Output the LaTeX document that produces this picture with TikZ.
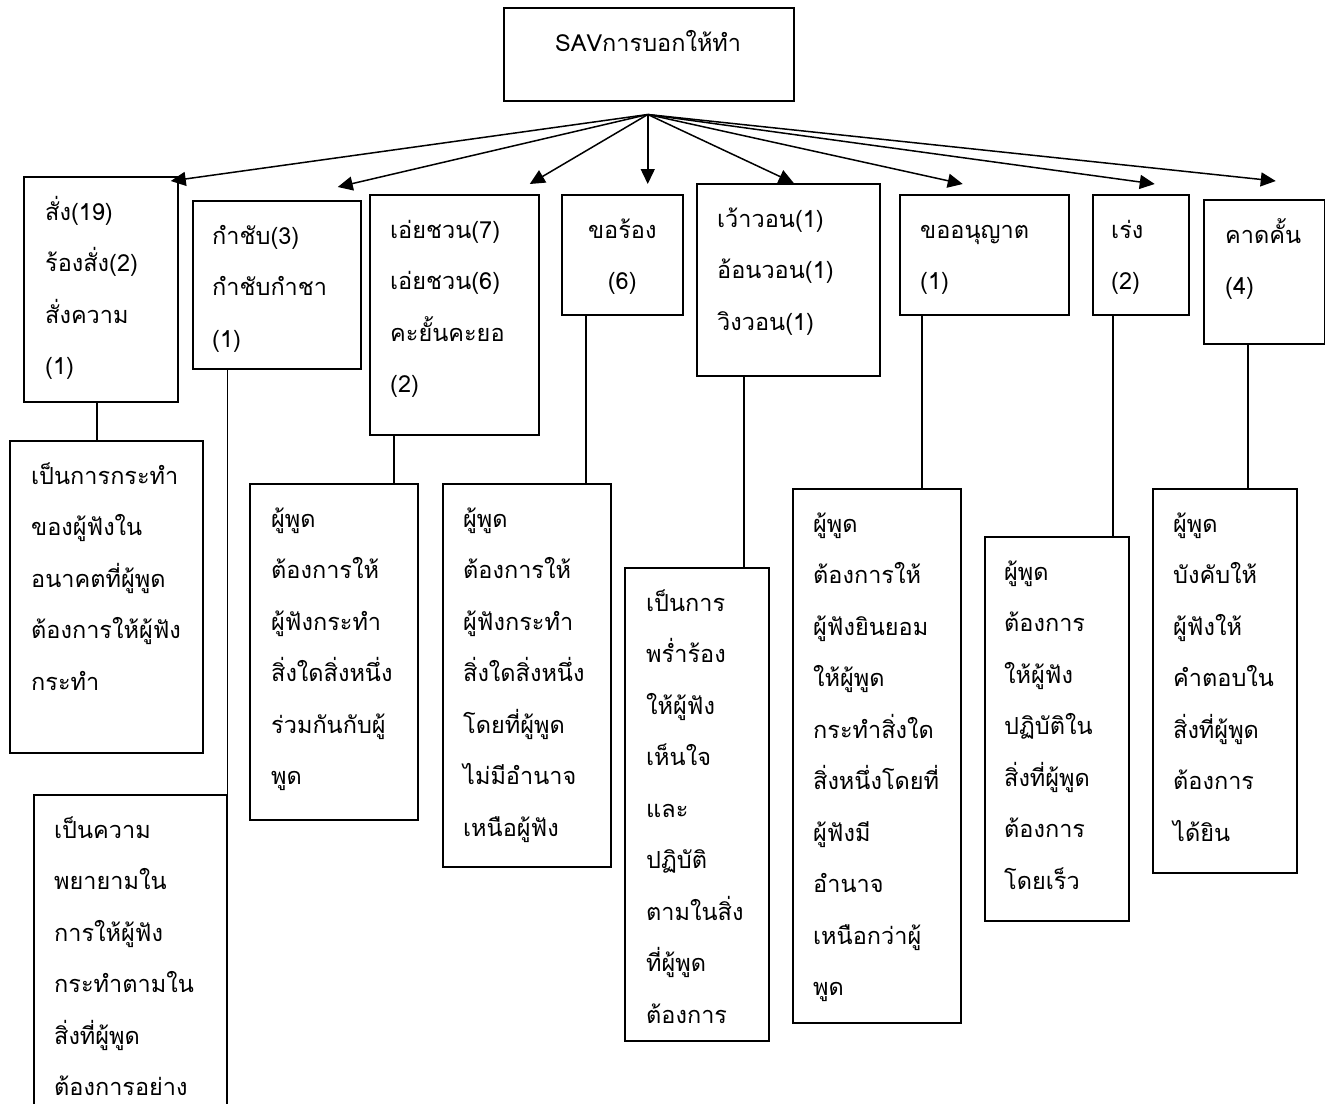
\documentclass[tikz,border=0pt]{standalone}
\usepackage{fontspec}
\newfontfamily\thaifont[Script=Thai]{Loma}
\usetikzlibrary{arrows.meta,positioning}
\newcommand{\kopf}{\rule{0pt}{36.3pt}}

\begin{document}
\begin{tikzpicture}[x=1pt,y=-1pt,
		box/.style={draw,line width=1.5pt,inner sep=0pt,anchor=north west},
		txt/.style={anchor=north west,inner sep=0pt,align=left,
			font=\thaifont\fontsize{23.5}{51.5}\selectfont},
		pil/.style={line width=1.5pt,-{Triangle[length=15pt,width=14pt]}},
		lin/.style={line width=1.5pt}]
		\useasboundingbox (0,0) rectangle (1325,1103);
		% top box
		\node[box,minimum width=290pt,minimum height=93pt] (sav) at (503,7) {};
		\node[txt] (tsav) at ([xshift=52pt,yshift=-7.7pt]sav.north west) {\kopf SAVการบอกให้ทำ};
		\coordinate (hub) at ([xshift=-1pt,yshift=-13pt]sav.south);
		% first row
		\node[box,minimum width=154pt,minimum height=225pt] (k1) at (23,176) {};
		\node[txt] (t1) at ([xshift=22pt,yshift=-7.7pt]k1.north west) {\kopf สั่ง(19)\\ร้องสั่ง(2)\\สั่งความ\\(1)};
		\node[box,minimum width=168pt,minimum height=168pt] (k2) at (192,200) {};
		\node[txt] (t2) at ([xshift=20pt,yshift=-7.7pt]k2.north west) {\kopf กำชับ(3)\\กำชับกำชา\\(1)};
		\node[box,minimum width=169pt,minimum height=240pt] (k3) at (369,194) {};
		\node[txt] (t3) at ([xshift=21pt,yshift=-7.7pt]k3.north west) {\kopf เอ่ยชวน(7)\\เอ่ยชวน(6)\\คะยั้นคะยอ\\(2)};
		\node[box,minimum width=121pt,minimum height=120pt] (k4) at (561,194) {};
		\node[txt,anchor=north,align=center] (t4) at ([yshift=-7.7pt]k4.north) {\kopf ขอร้อง\\(6)};
		\node[box,minimum width=183pt,minimum height=192pt] (k5) at (696,183) {};
		\node[txt] (t5) at ([xshift=21pt,yshift=-7.7pt]k5.north west) {\kopf เว้าวอน(1)\\อ้อนวอน(1)\\วิงวอน(1)};
		\node[box,minimum width=169pt,minimum height=120pt] (k6) at (899,194) {};
		\node[txt] (t6) at ([xshift=21pt,yshift=-7.7pt]k6.north west) {\kopf ขออนุญาต\\(1)};
		\node[box,minimum width=96pt,minimum height=120pt] (k7) at (1092,194) {};
		\node[txt] (t7) at ([xshift=19pt,yshift=-7.7pt]k7.north west) {\kopf เร่ง\\(2)};
		\node[box,minimum width=121pt,minimum height=144pt] (k8) at (1203,199) {};
		\node[txt] (t8) at ([xshift=22pt,yshift=-7.7pt]k8.north west) {\kopf คาดคั้น\\(4)};
		% second row
		\node[box,minimum width=193pt,minimum height=312pt] (dA) at (9,440) {};
		\node[txt] (tA) at ([xshift=22pt,yshift=-7.7pt]dA.north west) {\kopf เป็นการกระทำ\\ของผู้ฟังใน\\อนาคตที่ผู้พูด\\ต้องการให้ผู้ฟัง\\กระทำ};
		\node[box,minimum width=193pt,minimum height=330pt] (dB) at (33,794) {};
		\node[txt] (tB) at ([xshift=21pt,yshift=-7.7pt]dB.north west) {\kopf เป็นความ\\พยายามใน\\การให้ผู้ฟัง\\กระทำตามใน\\สิ่งที่ผู้พูด\\ต้องการอย่าง};
		\node[box,minimum width=168pt,minimum height=336pt] (dC) at (249,483) {};
		\node[txt] (tC) at ([xshift=22pt,yshift=-7.7pt]dC.north west) {\kopf ผู้พูด\\ต้องการให้\\ผู้ฟังกระทำ\\สิ่งใดสิ่งหนึ่ง\\ร่วมกันกับผู้\\พูด};
		\node[box,minimum width=168pt,minimum height=383pt] (dD) at (442,483) {};
		\node[txt] (tD) at ([xshift=21pt,yshift=-7.7pt]dD.north west) {\kopf ผู้พูด\\ต้องการให้\\ผู้ฟังกระทำ\\สิ่งใดสิ่งหนึ่ง\\โดยที่ผู้พูด\\ไม่มีอำนาจ\\เหนือผู้ฟัง};
		\node[box,minimum width=144pt,minimum height=473pt] (dE) at (624,567) {};
		\node[txt] (tE) at ([xshift=22pt,yshift=-7.7pt]dE.north west) {\kopf เป็นการ\\พร่ำร้อง\\ให้ผู้ฟัง\\เห็นใจ\\และ\\ปฏิบัติ\\ตามในสิ่ง\\ที่ผู้พูด\\ต้องการ};
		\node[box,minimum width=168pt,minimum height=534pt] (dF) at (792,488) {};
		\node[txt] (tF) at ([xshift=21pt,yshift=-7.7pt]dF.north west) {\kopf ผู้พูด\\ต้องการให้\\ผู้ฟังยินยอม\\ให้ผู้พูด\\กระทำสิ่งใด\\สิ่งหนึ่งโดยที่\\ผู้ฟังมี\\อำนาจ\\เหนือกว่าผู้\\พูด};
		\node[box,minimum width=144pt,minimum height=384pt] (dG) at (984,536) {};
		\node[txt] (tG) at ([xshift=20pt,yshift=-7.7pt]dG.north west) {\kopf ผู้พูด\\ต้องการ\\ให้ผู้ฟัง\\ปฏิบัติใน\\สิ่งที่ผู้พูด\\ต้องการ\\โดยเร็ว};
		\node[box,minimum width=144pt,minimum height=384pt] (dH) at (1152,488) {};
		\node[txt] (tH) at ([xshift=21pt,yshift=-7.7pt]dH.north west) {\kopf ผู้พูด\\บังคับให้\\ผู้ฟังให้\\คำตอบใน\\สิ่งที่ผู้พูด\\ต้องการ\\ได้ยิน};
		% arrows from the top box
		\draw[pil] (hub) -- ([xshift=70pt,yshift=-5pt]k1.north);
		\draw[pil] (hub) -- ([xshift=61pt,yshift=13pt]k2.north);
		\draw[pil] (hub) -- ([xshift=75.5pt,yshift=10pt]k3.north);
		\draw[pil] (hub) -- ([xshift=25.5pt,yshift=10pt]k4.north);
		\draw[pil] (hub) -- ([xshift=5.5pt]k5.north);
		\draw[pil] (hub) -- ([xshift=-21.5pt,yshift=10pt]k6.north);
		\draw[pil] (hub) -- ([xshift=14pt,yshift=10pt]k7.north);
		\draw[pil] (hub) -- ([xshift=11.5pt,yshift=18pt]k8.north);
		% lines down to the descriptions
		\draw[lin] ([xshift=-4pt]k1.south) -- ([xshift=-4pt]k1.south |- dA.north);
		\draw[lin] (dB.north east |- k2.south) -- (dB.north east);
		\draw[lin] ([xshift=25pt]k3.south west) -- ([xshift=25pt]k3.south west |- dC.north);
		\draw[lin] ([xshift=25pt]k4.south west) -- ([xshift=25pt]k4.south west |- dD.north);
		\draw[lin] ([xshift=48pt]k5.south west) -- ([xshift=48pt]k5.south west |- dE.north);
		\draw[lin] ([xshift=23pt]k6.south west) -- ([xshift=23pt]k6.south west |- dF.north);
		\draw[lin] ([xshift=21pt]k7.south west) -- ([xshift=21pt]k7.south west |- dG.north);
		\draw[lin] ([xshift=45pt]k8.south west) -- ([xshift=45pt]k8.south west |- dH.north);
\end{tikzpicture}
\end{document}
